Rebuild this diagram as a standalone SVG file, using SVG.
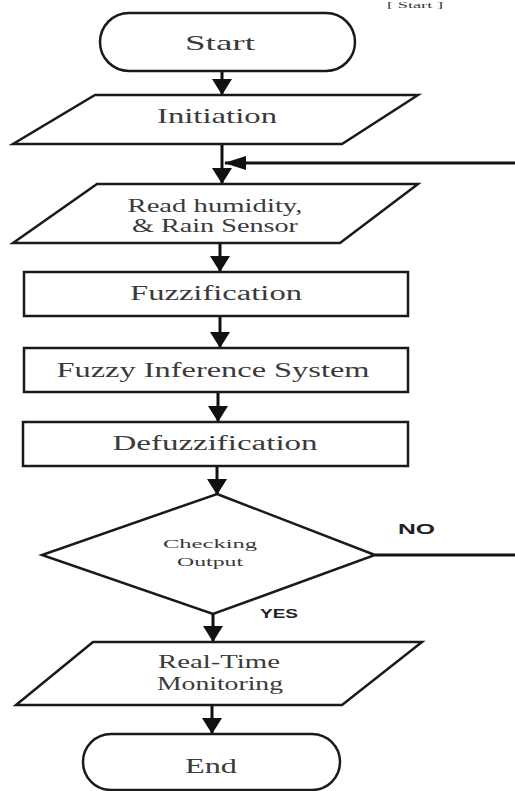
<svg xmlns="http://www.w3.org/2000/svg" width="515" height="791" viewBox="0 0 515 791">
<style>
.shape{fill:#fff;stroke:#1a1a1a;stroke-width:2.5}
.conn{fill:none;stroke:#111;stroke-width:3}
.t{font-family:"Liberation Serif","Times New Roman",serif;fill:#3a3a3a;text-anchor:middle}
.lbl{font-family:"Liberation Sans",Arial,sans-serif;font-weight:bold;fill:#222}
</style>
<defs>
<marker id="ah" markerUnits="userSpaceOnUse" viewBox="0 0 16 20" refX="15" refY="10" markerWidth="16" markerHeight="20" orient="auto">
<path d="M0,0 L16,10 L0,20 Z" fill="#111"/>
</marker>
<marker id="ahs" markerUnits="userSpaceOnUse" viewBox="0 0 22 14" refX="21" refY="7" markerWidth="22" markerHeight="14" orient="auto">
<path d="M0,0 L22,7 L0,14 Z" fill="#111"/>
</marker>
</defs>
<rect width="515" height="791" fill="#fff"/>
<text x="415" y="8" class="t" font-size="9" fill="#444" textLength="56" lengthAdjust="spacingAndGlyphs">[ Start ]</text>

<g id="connectors">
<line class="conn" x1="222" y1="71" x2="222" y2="94" marker-end="url(#ah)"/>
<line class="conn" x1="222" y1="144" x2="222" y2="183" marker-end="url(#ah)"/>
<line class="conn" x1="515" y1="163" x2="225" y2="163" marker-end="url(#ahs)"/>
<line class="conn" x1="220" y1="243" x2="220" y2="271" marker-end="url(#ah)"/>
<line class="conn" x1="220" y1="316" x2="220" y2="347" marker-end="url(#ah)"/>
<line class="conn" x1="218" y1="392" x2="218" y2="421" marker-end="url(#ah)"/>
<line class="conn" x1="217" y1="466" x2="217" y2="494" marker-end="url(#ah)"/>
<line class="conn" x1="375" y1="555" x2="515" y2="555"/>
<line class="conn" x1="213" y1="614" x2="213" y2="641" marker-end="url(#ah)"/>
<line class="conn" x1="212" y1="705" x2="212" y2="733" marker-end="url(#ah)"/>
</g>

<g id="start">
<rect class="shape" x="100" y="13" width="255" height="58" rx="29"/>
<text class="t" x="220" y="50" font-size="22" textLength="70" lengthAdjust="spacingAndGlyphs">Start</text>
</g>
<g id="initiation">
<polygon class="shape" points="95,95 418,95 342,144 13,144"/>
<text class="t" x="217" y="123" font-size="22" textLength="120" lengthAdjust="spacingAndGlyphs">Initiation</text>
</g>
<g id="read">
<polygon class="shape" points="97,184 418,184 340,243 13,243"/>
<text class="t" x="215" y="212" font-size="19" textLength="175" lengthAdjust="spacingAndGlyphs">Read humidity,</text>
<text class="t" x="215" y="232" font-size="19" textLength="166" lengthAdjust="spacingAndGlyphs">&amp; Rain Sensor</text>
</g>
<g id="fuzzification">
<rect class="shape" x="24" y="272" width="384" height="44"/>
<text class="t" x="216" y="300" font-size="20" textLength="172" lengthAdjust="spacingAndGlyphs">Fuzzification</text>
</g>
<g id="fis">
<rect class="shape" x="24" y="348" width="384" height="44"/>
<text class="t" x="213" y="377" font-size="20" textLength="313" lengthAdjust="spacingAndGlyphs">Fuzzy Inference System</text>
</g>
<g id="defuzzification">
<rect class="shape" x="23" y="422" width="385" height="44"/>
<text class="t" x="215" y="450" font-size="20" textLength="205" lengthAdjust="spacingAndGlyphs">Defuzzification</text>
</g>
<g id="checking">
<polygon class="shape" points="217,494 375,555 213,614 42,555"/>
<text class="t" x="210" y="548" font-size="13" fill="#666" textLength="94" lengthAdjust="spacingAndGlyphs">Checking</text>
<text class="t" x="210" y="566" font-size="13" fill="#666" textLength="66" lengthAdjust="spacingAndGlyphs">Output</text>
</g>
<text class="lbl" x="398" y="534" font-size="14" textLength="37" lengthAdjust="spacingAndGlyphs">NO</text>
<text class="lbl" x="260" y="618" font-size="12.5" textLength="38" lengthAdjust="spacingAndGlyphs">YES</text>
<g id="monitoring">
<polygon class="shape" points="93,642 422,642 342,705 16,705"/>
<text class="t" x="219" y="668" font-size="19" textLength="122" lengthAdjust="spacingAndGlyphs">Real-Time</text>
<text class="t" x="220" y="690" font-size="19" textLength="126" lengthAdjust="spacingAndGlyphs">Monitoring</text>
</g>
<g id="end">
<rect class="shape" x="83" y="734" width="257" height="56" rx="28"/>
<text class="t" x="211" y="773" font-size="22" textLength="52" lengthAdjust="spacingAndGlyphs">End</text>
</g>
</svg>
